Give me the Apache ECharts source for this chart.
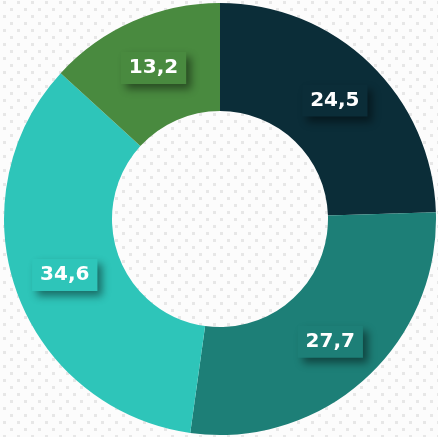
<!DOCTYPE html>
<html>
<head>
<meta charset="utf-8">
<script src="https://cdn.jsdelivr.net/npm/echarts@6/dist/echarts.min.js"></script>
<style>
    html, body {
        margin: 0;
        padding: 0;
        background: #fcfcfc;
    }
    #bg {
        position: absolute;
        left: 0; top: 0;
        width: 438px; height: 437px;
        /* staggered square dot pattern */
        background-image: url("data:image/svg+xml;utf8,<svg xmlns='http://www.w3.org/2000/svg' width='14' height='14'><rect x='3' y='1' width='3' height='3' fill='%23e7e7e7'/><rect x='10' y='8' width='3' height='3' fill='%23e7e7e7'/></svg>");
        background-size: 14px 14px;
    }
    #chart {
        position: absolute;
        left: 0; top: 0;
        width: 438px; height: 437px;
    }
</style>
</head>
<body>
<div id="bg"></div>
<div id="chart"></div>
<script>
    // slices, clockwise from 12 o'clock
    var names = ['A', 'B', 'C', 'D'];
    var values = [24.5, 27.7, 34.6, 13.2];
    var colors = ['#0b2d38', '#1d7f77', '#2ec5b9', '#498a3f'];

    var chart = echarts.init(document.getElementById('chart'));

    var data = values.map(function (v, i) {
        return {
            name: names[i],
            value: v,
            itemStyle: {color: colors[i]},
            label: {backgroundColor: colors[i]}
        };
    });

    chart.setOption({
        backgroundColor: 'transparent',
        animation: false,
        series: [
            {
                type: 'pie',
                center: [220, 219],
                radius: [108, 216],
                startAngle: 90,
                clockwise: true,
                silent: true,
                data: data,
                label: {
                    show: true,
                    position: 'inside',
                    formatter: function (p) {
                        return p.value.toFixed(1).replace('.', ',');
                    },
                    color: '#ffffff',
                    fontFamily: 'DejaVu Sans',
                    fontWeight: 'bold',
                    fontSize: 20,
                    padding: [6, 8, 6, 8],
                    shadowColor: 'rgba(0,0,0,0.45)',
                    shadowBlur: 8,
                    shadowOffsetX: 5,
                    shadowOffsetY: 5
                },
                labelLine: {show: false}
            }
        ]
    });
</script>
</body>
</html>
